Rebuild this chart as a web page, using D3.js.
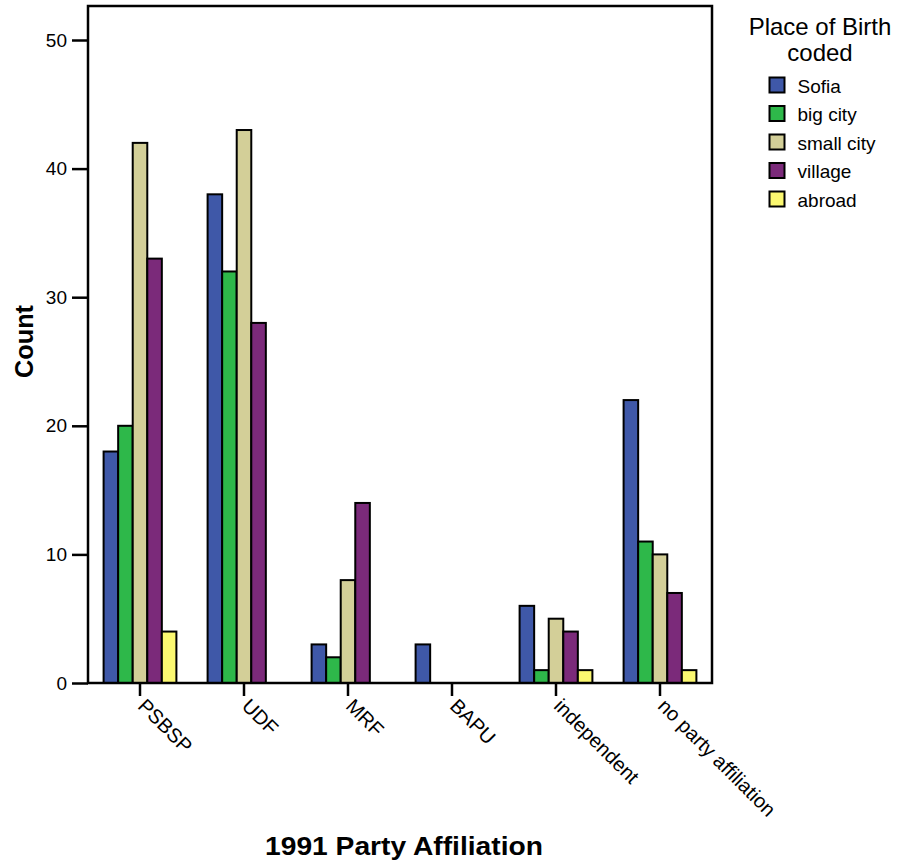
<!DOCTYPE html>
<html><head><meta charset="utf-8">
<script src="https://cdn.jsdelivr.net/npm/d3@7"></script>
<style>body{margin:0;background:#fff}svg{display:block;font-family:"Liberation Sans",Arial,sans-serif}</style>
</head><body><svg id="c" width="907" height="861"></svg>
<script>
const categories = ["PSBSP","UDF","MRF","BAPU","independent","no party affiliation"];
const seriesNames = ["Sofia","big city","small city","village","abroad"];
const colors = ["#3f58a8","#2eb84a","#d3cf98","#7b2a7a","#fbf870"];
const sofia = [18,38,3,3,6,22];
const bigCity = [20,32,2,0,1,11];
const smallCity = [42,43,8,0,5,10];
const village = [33,28,14,0,4,7];
const abroad = [4,0,0,0,1,1];
const yTicks = [0,10,20,30,40,50];
const series = [sofia,bigCity,smallCity,village,abroad];

const svg = d3.select("#c");
const L=88,R=712,T=6,B=683;
const x = d3.scaleBand().domain(categories).range([L,R]).paddingInner(0.3).paddingOuter(0.15);
const xc = d3.scaleBand().domain(categories).range([L,R]);
const xs = d3.scaleBand().domain(seriesNames).range([0,x.bandwidth()]);
const y = d3.scaleLinear().domain([0,50]).range([B,40]);

const data = [];
categories.forEach((c,i)=>series.forEach((s,j)=>data.push({c,s:seriesNames[j],v:s[i],col:colors[j]})));

svg.append("g").selectAll("rect").data(data).join("rect")
  .attr("x",d=>xc(d.c)+xc.bandwidth()/2-x.bandwidth()/2+xs(d.s))
  .attr("y",d=>y(d.v))
  .attr("width",xs.bandwidth())
  .attr("height",d=>B-y(d.v))
  .attr("fill",d=>d.col).attr("stroke","#000").attr("stroke-width",2);

// frame
svg.append("rect").attr("x",L).attr("y",T).attr("width",R-L).attr("height",B-T)
  .attr("fill","none").attr("stroke","#000").attr("stroke-width",2.5);

// y axis
const ya = svg.append("g").attr("transform",`translate(${L},0)`)
  .call(d3.axisLeft(y).tickValues(yTicks).tickSize(16).tickPadding(5));
ya.select(".domain").remove();
ya.selectAll("line").attr("stroke","#000").attr("stroke-width",2.5);
ya.selectAll("text").attr("font-size",19).attr("fill","#000").attr("font-family","Liberation Sans, Arial, sans-serif");

// x axis
const xa = svg.append("g").attr("transform",`translate(0,${B})`)
  .call(d3.axisBottom(xc).tickSize(13).tickPadding(0));
xa.select(".domain").remove();
xa.selectAll("line").attr("stroke","#000").attr("stroke-width",2.5);
xa.selectAll("text").attr("font-size",20).attr("fill","#000")
  .attr("font-family","Liberation Sans, Arial, sans-serif")
  .attr("text-anchor","start").attr("dy","0.72em")
  .attr("transform","translate(7,14) rotate(45)")
  .attr("y",0).attr("x",0);

// axis titles
svg.append("text").attr("transform","translate(33,341.5) rotate(-90)")
  .attr("text-anchor","middle").attr("font-size",25).attr("font-weight","bold")
  .attr("textLength",73).attr("lengthAdjust","spacingAndGlyphs").text("Count");
svg.append("text").attr("x",404).attr("y",855).attr("text-anchor","middle")
  .attr("font-size",25).attr("font-weight","bold")
  .attr("textLength",278).attr("lengthAdjust","spacingAndGlyphs").text("1991 Party Affiliation");

// legend
svg.append("text").attr("x",820).attr("y",35).attr("text-anchor","middle").attr("font-size",24).text("Place of Birth");
svg.append("text").attr("x",820).attr("y",61).attr("text-anchor","middle").attr("font-size",24).text("coded");
const lg = svg.append("g").selectAll("g").data(seriesNames).join("g")
  .attr("transform",(d,i)=>`translate(769.5,${77.5+i*28.5})`);
lg.append("rect").attr("width",15).attr("height",15).attr("fill",(d,i)=>colors[i]).attr("stroke","#000").attr("stroke-width",2);
lg.append("text").attr("x",28).attr("y",15).attr("font-size",19).text(d=>d);
</script></body></html>
